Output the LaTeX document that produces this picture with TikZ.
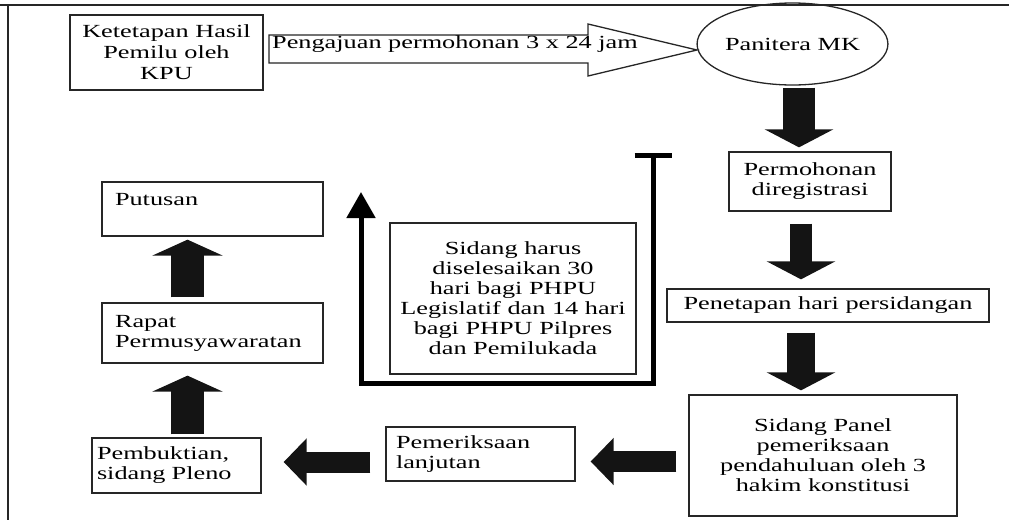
\documentclass[tikz,border=0pt]{standalone}
\usepackage{fontspec}
\setmainfont[FakeStretch=1.42]{Liberation Serif}
\usetikzlibrary{arrows.meta,shapes.geometric}

\begin{document}
\begin{tikzpicture}[x=1pt,y=-1pt,font=\fontsize{18.5}{20}\selectfont,
  kotak/.style={draw=black!85,line width=1.3pt,inner sep=0pt,align=center},
  kiri/.style={kotak,align=left},
  turun/.style={draw=black!92,line width=#1,-{Triangle[length=18pt,width=68pt]}},
  naik/.style={draw=black!92,line width=33pt,-{Triangle[length=16pt,width=70pt]}},
  balik/.style={draw=black!92,line width=21pt,-{Triangle[length=23pt,width=46pt]}}]
\useasboundingbox (0,0) rectangle (1009,520);
\draw[line width=1.5pt,black!85] (0,5) -- (1009,5);
\draw[line width=1.5pt,black!85] (8,5) -- (8,520);

\node[kotak,minimum width=193pt,minimum height=75pt] (ketetapan) at (166.5,52.5) {Ketetapan Hasil\\[1pt]Pemilu oleh\\[1pt]KPU};
\node[ellipse,draw=black!85,line width=1.3pt,minimum width=169pt,minimum height=82pt,inner sep=0pt] (panitera) at (792.5,44) {Panitera MK};
\node[kotak,minimum width=162pt,minimum height=59pt] (daftar) at (810,181.5) {Permohonan\\diregistrasi};
\node[kotak,minimum width=322pt,minimum height=33pt] (penetapan) at (828,305.5) {Penetapan hari persidangan};
\node[kotak,minimum width=268pt,minimum height=121pt] (panel) at (823,455.5) {Sidang Panel\\pemeriksaan\\pendahuluan oleh 3\\hakim konstitusi};
\node[kiri,text width=169pt,inner xsep=10pt,minimum height=54pt] (lanjut) at (480.5,454) {Pemeriksaan\\lanjutan};
\node[kiri,text width=159pt,inner xsep=5pt,minimum height=55pt] (bukti) at (176.5,465.5) {Pembuktian,\\sidang Pleno};
\node[kiri,text width=195pt,inner xsep=13pt,minimum height=60pt] (rapat) at (212.5,333) {Rapat\\Permusyawaratan};
\node[kiri,text width=195pt,inner xsep=13pt,minimum height=54pt,text height=14pt,text depth=22pt] (putusan) at (212.5,209) {Putusan};
\node[kotak,minimum width=246pt,minimum height=151pt] (batas) at (513,298.5) {Sidang harus\\diselesaikan 30\\hari bagi PHPU\\Legislatif dan 14 hari\\bagi PHPU Pilpres\\dan Pemilukada};

\draw[draw=black!85,fill=white,line width=1.3pt,line join=miter] (269,35) -- (588,35) -- (588,24) -- (697,50) -- (588,76) -- (588,63) -- (269,63) -- cycle;
\node[anchor=base west,inner sep=0pt] (ajuan) at (272,48) {Pengajuan permohonan 3 x 24 jam};

\draw[turun=32pt,shorten <=2pt,shorten >=4pt] ([xshift=6.5pt]panitera.south) -- ([xshift=-11pt]daftar.north);
\draw[turun=22pt,shorten <=12pt,shorten >=9pt] ([xshift=-9pt]daftar.south) -- ([xshift=-27pt]penetapan.north);
\draw[turun=28pt,shorten <=10pt,shorten >=4pt] ([xshift=-27pt]penetapan.south) -- ([xshift=-22pt]panel.north);
\draw[balik,shorten <=12pt,shorten >=15pt] ([yshift=-6pt]panel.west) -- ([yshift=-7.5pt]lanjut.east);
\draw[balik,shorten <=15pt,shorten >=22pt] ([yshift=-8pt]lanjut.west) -- ([yshift=3.5pt]bukti.east);
\draw[naik,shorten <=3pt,shorten >=12pt] ([xshift=11pt]bukti.north) -- ([xshift=-25pt]rapat.south);
\draw[naik,shorten <=5pt,shorten >=3pt] ([xshift=-25pt]rapat.north) -- ([xshift=-25pt]putusan.south);

\coordinate (ujung) at (653,153);
\coordinate (pangkal) at (361,192);
\draw[line width=5pt,line join=miter,{Bar[width=37pt]}-{Triangle[length=26pt,width=28pt]}] (ujung) -- ++(0,230) -| (pangkal);
\end{tikzpicture}
\end{document}
